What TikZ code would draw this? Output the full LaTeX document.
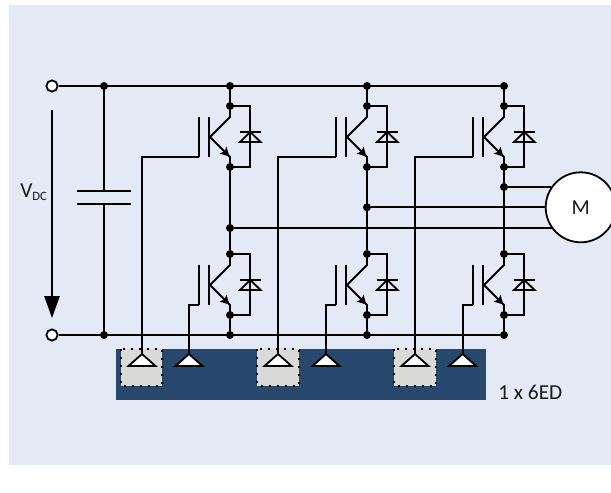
\documentclass[tikz,border=0pt]{standalone}
\usepackage{fontspec}
\setmainfont{Carlito}
\usetikzlibrary{arrows.meta}
\definecolor{bgblue}{RGB}{228,234,245}
\definecolor{navy}{RGB}{40,72,110}
\definecolor{boxgray}{RGB}{218,218,214}
\tikzset{
  x=0.75pt,y=-0.75pt,
  wire/.style={draw=black,line width=1.35pt},
  dotnode/.style={circle,fill=black,inner sep=0pt,minimum size=6pt},
  term/.style={circle,draw=black,fill=white,line width=1.35pt,inner sep=0pt,minimum size=8.4pt},
  tri/.style={draw=black,fill=white,line width=1.35pt,line join=miter},
  dbox/.style={draw=black,fill=boxgray,line width=1.5pt,dash pattern=on 1.5pt off 4.5pt},
  lbl/.style={text=black!90,font=\fontsize{16pt}{18pt}\selectfont,inner sep=0pt}
}
\newcommand{\igbtcell}[2]{%
  \begin{scope}[shift={(#1,#2)}]
    \draw[wire] (0,0) -- (0,11) -- (-20,31) -- (0,51) -- (0,61);
    \draw[wire] (-21,11) -- (-21,51);
    \draw[wire] (-31,11) -- (-31,51);
    \draw[wire] (0,0) -- (20,0) -- (20,61) -- (0,61);
    \fill[black] (-0.7,50.5) -- (-10.5,47.5) -- (-5.5,45.5) -- (-3.5,40.5) -- cycle;
    \draw[wire] (9.5,26) -- (31,26);
    \draw[wire,line join=miter] (20.3,26) -- (10,36) -- (30.6,36) -- cycle;
  \end{scope}
}
\begin{document}
\begin{tikzpicture}
\useasboundingbox (0,0) rectangle (611,493);
\fill[white] (0,0) rectangle (611,493);
\fill[bgblue] (9,5) rectangle (611,465);
% driver block
\fill[navy] (116,349) rectangle (486,400);
\foreach \b in {141.5,278,415}{
  \draw[dbox] (\b-20.7,349) rectangle (\b+20.7,385.7);
}
% cells
\igbtcell{230}{106}
\igbtcell{367}{106}
\igbtcell{504}{106}
\igbtcell{230}{254}
\igbtcell{367}{254}
\igbtcell{504}{254}
% named points
\node[term] (termtop) at (52,86) {};
\node[term] (termbot) at (52,335) {};
\node[dotnode] (captop) at (104,86) {};
\node[dotnode] (capbot) at (104,335) {};
\foreach \n/\x in {la/230,lb/367,lc/504}{
  \node[dotnode] (\n-top) at (\x,86) {};
  \node[dotnode] (\n-up) at (\x,106) {};
  \node[dotnode] (\n-mid) at (\x,167) {};
  \node[dotnode] (\n-low) at (\x,254) {};
  \node[dotnode] (\n-em) at (\x,315) {};
  \node[dotnode] (\n-bot) at (\x,335) {};
}
\node[dotnode] (ph1) at (230,228) {};
\node[dotnode] (ph2) at (367,207.3) {};
\node[dotnode] (ph3) at (504,187) {};
\node[circle,draw=black,fill=white,line width=1.35pt,inner sep=0pt,minimum size=52.5pt] (mot) at (580.7,207.3) {};
\node[lbl] at (mot) {M};
% buses
\draw[wire] (termtop) -- (lc-top);
\draw[wire] (termbot) -- (lc-bot);
% legs
\foreach \n in {la,lb,lc}{
  \draw[wire] (\n-top) -- (\n-up);
  \draw[wire] (\n-mid) -- (\n-low);
  \draw[wire] (\n-em) -- (\n-bot);
}
% phases
\draw[wire] (ph1) -- (mot.216.9 |- ph1);
\draw[wire] (ph2) -- (mot.180);
\draw[wire] (ph3) -- (mot.145 |- ph3);
% capacitor
\coordinate (p1) at (104,191);
\coordinate (p2) at (104,204);
\draw[wire] (captop) -- (p1);
\draw[wire] (p2) -- (capbot);
\draw[wire] (77,191) -- (131,191);
\draw[wire] (77,204) -- (131,204);
% VDC arrow
\coordinate (v1) at (52,110);
\coordinate (v2) at (52,318);
\draw[wire,line width=1.1pt,-{Triangle[length=16.5pt,width=11.5pt]}] (v1) -- (v2);
\node[lbl,anchor=base west] at (20,197) {V\raisebox{-2.5pt}{\fontsize{9.5pt}{10pt}\selectfont DC}};
% gates and triangles
\foreach \tx/\ux/\lx in {142/230/189,278/367/326,415/504/462.6}{
  \coordinate (gu) at (\ux-31,157);
  \coordinate (gl) at (\ux-31,305);
  \draw[wire] (gu) -- (\tx,157) -- (\tx,353);
  \draw[wire] (gl) -- (\lx,305) -- (\lx,353);
  \draw[tri] (\tx,354) -- (\tx+13.5,366) -- (\tx-13.5,366) -- cycle;
  \draw[tri] (\lx,354) -- (\lx+13.5,366) -- (\lx-13.5,366) -- cycle;
}
\node[lbl,anchor=base west] at (498,399) {1 x 6ED};
\end{tikzpicture}
\end{document}
